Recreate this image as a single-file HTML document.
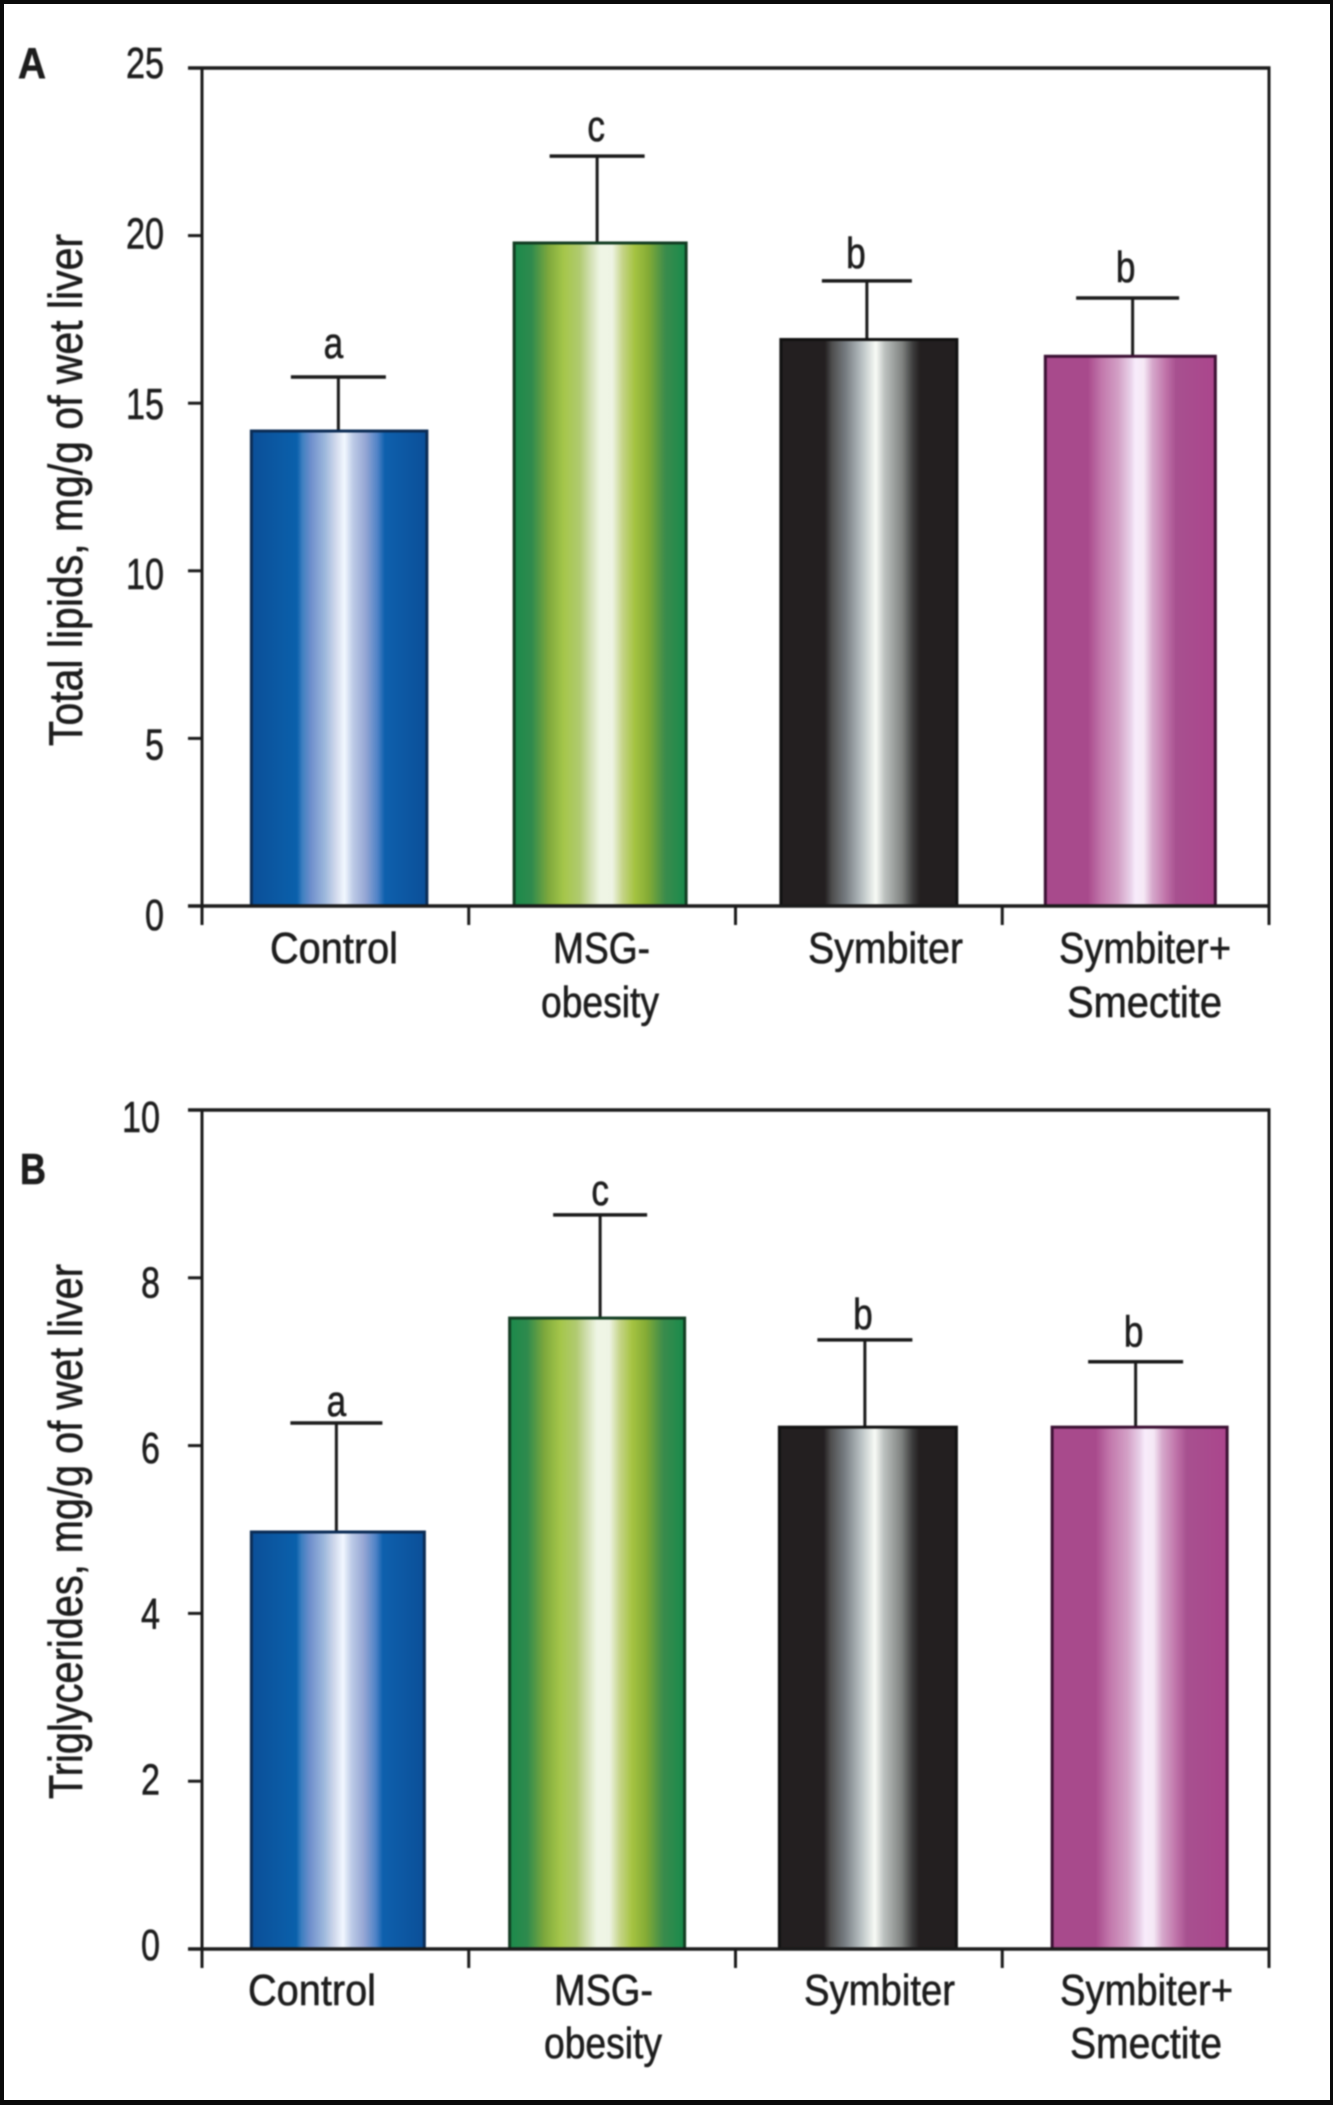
<!DOCTYPE html>
<html lang="en">
<head>
<meta charset="utf-8">
<title>Total lipids and triglycerides bar charts</title>
<style>
html,body{margin:0;padding:0;background:#fff;}
#page{position:relative;width:1333px;height:2105px;background:#fff;overflow:hidden;}
#frame{position:absolute;left:0;top:0;width:1333px;height:2105px;box-sizing:border-box;border-style:solid;border-color:#0a0a0a;border-width:4px 3px 5px 4px;}
#chart{position:absolute;left:0;top:0;filter:blur(0.9px);}
text{font-family:"Liberation Sans",sans-serif;fill:#1d1d1d;stroke:#1d1d1d;stroke-width:0.6px;}
</style>
</head>
<body>
<div id="page">
<svg id="chart" width="1333" height="2105" viewBox="0 0 1333 2105" xmlns="http://www.w3.org/2000/svg">
<defs>
<linearGradient id="grad-blue" x1="0" x2="1" y1="0" y2="0">
<stop offset="0" stop-color="#0b4f98"/><stop offset=".26" stop-color="#0a60ab"/><stop offset=".29" stop-color="#3d7fc0"/><stop offset=".34" stop-color="#6f8fcc"/><stop offset=".42" stop-color="#9db8dc"/><stop offset=".48" stop-color="#d0d8ec"/><stop offset=".53" stop-color="#f2f8ff"/><stop offset=".58" stop-color="#bccae6"/><stop offset=".65" stop-color="#95a6d4"/><stop offset=".72" stop-color="#4e82c6"/><stop offset=".76" stop-color="#0e60ad"/><stop offset="1" stop-color="#0b4f98"/>
</linearGradient>
<linearGradient id="grad-green" x1="0" x2="1" y1="0" y2="0">
<stop offset="0" stop-color="#1b8a4b"/><stop offset=".1" stop-color="#2e8a4d"/><stop offset=".2" stop-color="#7ea83c"/><stop offset=".29" stop-color="#a5c64a"/><stop offset=".38" stop-color="#b0ca70"/><stop offset=".45" stop-color="#d5e2b8"/><stop offset=".5" stop-color="#eff5e5"/><stop offset=".57" stop-color="#eef4e4"/><stop offset=".63" stop-color="#c5d488"/><stop offset=".7" stop-color="#a5c341"/><stop offset=".78" stop-color="#84ab35"/><stop offset=".88" stop-color="#3a8b4c"/><stop offset="1" stop-color="#178a4b"/>
</linearGradient>
<linearGradient id="grad-black" x1="0" x2="1" y1="0" y2="0">
<stop offset="0" stop-color="#231f20"/><stop offset=".25" stop-color="#231f20"/><stop offset=".29" stop-color="#4d4d4d"/><stop offset=".37" stop-color="#777d82"/><stop offset=".46" stop-color="#b8c0c2"/><stop offset=".54" stop-color="#f8fbf6"/><stop offset=".59" stop-color="#bcc1bf"/><stop offset=".69" stop-color="#7f8280"/><stop offset=".75" stop-color="#3d3d3d"/><stop offset=".79" stop-color="#231f20"/><stop offset="1" stop-color="#231f20"/>
</linearGradient>
<linearGradient id="grad-magenta" x1="0" x2="1" y1="0" y2="0">
<stop offset="0" stop-color="#a84a8c"/><stop offset=".25" stop-color="#a84a8c"/><stop offset=".33" stop-color="#c277ab"/><stop offset=".43" stop-color="#d3a0c6"/><stop offset=".5" stop-color="#e8d0e8"/><stop offset=".53" stop-color="#f8ecfb"/><stop offset=".58" stop-color="#f5e8f5"/><stop offset=".63" stop-color="#d6a8cb"/><stop offset=".71" stop-color="#bf72a8"/><stop offset=".77" stop-color="#a7508f"/><stop offset="1" stop-color="#ab458c"/>
</linearGradient>
</defs>
<g id="panel-a"></g>
<g id="panel-b"></g>
</svg>
<div id="frame"></div>
</div>
<script>
// ---- chart data ----
var categories = ['Control', 'MSG-obesity', 'Symbiter', 'Symbiter+Smectite'];
var lipidValues = [14.17, 19.78, 16.9, 16.4];
var lipidErrors = [1.61, 2.59, 1.75, 1.74];
var lipidLetters = ['a', 'c', 'b', 'b'];
var lipidTicks = [0, 5, 10, 15, 20, 25];
var trigValues = [4.97, 7.52, 6.22, 6.22];
var trigErrors = [1.3, 1.23, 1.04, 0.78];
var trigLetters = ['a', 'c', 'b', 'b'];
var trigTicks = [0, 2, 4, 6, 8, 10];

// ---- layout (separate from the data) ----
var svgNS = 'http://www.w3.org/2000/svg';
var fills = ['url(#grad-blue)', 'url(#grad-green)', 'url(#grad-black)', 'url(#grad-magenta)'];
var strokes = ['#0b2c55', '#123d22', '#111', '#3b1033'];
var plotLeft = 202;
var plotRight = 1269;

var layoutA = {
  id: 'panel-a', yZero: 906, yTop: 68, yMax: 25,
  title: 'Total lipids, mg/g of wet liver', titleStart: 746, titleLength: 512,
  letter: 'A', letterX: 18, letterY: 78, letterW: 28,
  tickLabelRight: 164,
  tickLabelOffset: function (v) { return 24 - (v * 0.56); },
  barShift: [3.75, -2, 0, -5.3], barWidth: [175.5, 172, 176, 170],
  errShift: [3, -5, -2, -3], capWidth: [95, 95, 90, 103], capShift: [0, 0, 0, -5],
  letterShift: [-2, -6, -13, -10], letterGap: [19, 15, 13, 16],
  labelRows: [963, 1017],
  labelBoxes: [[[270, 128]], [[553, 97], [541, 118]], [[808, 155]], [[1059, 172], [1067, 155]]],
  labelLines: [['Control'], ['MSG-', 'obesity'], ['Symbiter'], ['Symbiter+', 'Smectite']]
};
var layoutB = {
  id: 'panel-b', yZero: 1949, yTop: 1110, yMax: 10,
  title: 'Triglycerides, mg/g of wet liver', titleStart: 1799, titleLength: 535,
  letter: 'B', letterX: 20, letterY: 1184, letterW: 26,
  tickLabelRight: 160,
  tickLabelOffset: function (v) { return 11 + v * 1.1; },
  barShift: [2.5, -5, -1, 4], barWidth: [173, 175, 177, 175],
  errShift: [1, -2, -4, 0], capWidth: [92, 94, 95, 95], capShift: [0, 0, 0, 0],
  letterShift: [1, -2, -6, -2], letterGap: [7, 10, 11, 15],
  labelRows: [2005, 2058],
  labelBoxes: [[[248, 128]], [[554, 99], [544, 118]], [[804, 151]], [[1060, 173], [1070, 152]]],
  labelLines: [['Control'], ['MSG-', 'obesity'], ['Symbiter'], ['Symbiter+', 'Smectite']]
};

function makeLine(parent, x1, y1, x2, y2, w, color) {
  var el = document.createElementNS(svgNS, 'line');
  el.setAttribute('x1', x1);
  el.setAttribute('y1', y1);
  el.setAttribute('x2', x2);
  el.setAttribute('y2', y2);
  el.setAttribute('stroke', color || '#1a1a1a');
  el.setAttribute('stroke-width', w);
  parent.appendChild(el);
  return el;
}

function makeText(parent, str, x, y, size, len, weight) {
  var el = document.createElementNS(svgNS, 'text');
  el.setAttribute('x', x);
  el.setAttribute('y', y);
  el.setAttribute('font-size', size);
  if (len) {
    el.setAttribute('textLength', len);
    el.setAttribute('lengthAdjust', 'spacingAndGlyphs');
  }
  if (weight) { el.setAttribute('font-weight', weight); }
  el.textContent = str;
  parent.appendChild(el);
  return el;
}

function drawPanel(cfg, values, errors, letters, ticks) {
  var g = document.getElementById(cfg.id);
  var yScale = function (v) { return cfg.yZero - v * (cfg.yZero - cfg.yTop) / cfg.yMax; };
  var bandWidth = (plotRight - plotLeft) / categories.length;
  var xCenter = function (i) { return plotLeft + bandWidth * (i + 0.5); };
  var el;

  // bars and error bars
  values.forEach(function (v, i) {
    var cx = xCenter(i) + cfg.barShift[i];
    var w = cfg.barWidth[i];
    var ex = xCenter(i) + cfg.errShift[i];
    var cc = ex + cfg.capShift[i];
    var top = yScale(v + errors[i]);

    el = makeLine(g, ex, yScale(v), ex, top, 3);
    
    
    el = makeLine(g, cc - cfg.capWidth[i] / 2, top, cc + cfg.capWidth[i] / 2, top, 3.5);
    
    

    el = document.createElementNS(svgNS, 'rect');
    el.setAttribute('x', cx - w / 2);
    el.setAttribute('y', yScale(v));
    el.setAttribute('width', w);
    el.setAttribute('height', cfg.yZero - yScale(v));
    el.setAttribute('fill', fills[i]);
    el.setAttribute('stroke', strokes[i]);
    el.setAttribute('stroke-width', 3);
    
    
    g.appendChild(el);

    el = makeText(g, letters[i], xCenter(i) + cfg.letterShift[i], top - cfg.letterGap[i], 44, 0);
    el.setAttribute('text-anchor', 'middle');
    el.setAttribute('transform', 'translate(' + (xCenter(i) + cfg.letterShift[i]) * 0.2 + ' 0) scale(0.8 1)');
    
    
  });

  // axes frame
  el = makeLine(g, plotLeft - 14, cfg.yTop, plotRight + 1.5, cfg.yTop, 3.5);
  
  
  el = makeLine(g, plotLeft, cfg.yTop, plotLeft, cfg.yZero, 3);
  
  
  el = makeLine(g, plotRight, cfg.yTop, plotRight, cfg.yZero, 3);
  
  
  el = makeLine(g, plotLeft - 14, cfg.yZero, plotRight + 1.5, cfg.yZero, 3.5);
  
  

  // y ticks + labels
  ticks.forEach(function (t) {
    if (t !== 0 && t !== cfg.yMax) {
      el = makeLine(g, plotLeft - 14, yScale(t), plotLeft, yScale(t), 3);
      
      
    }
    var s = String(t);
    var w = s.length * 19;
    el = makeText(g, s, cfg.tickLabelRight - w, yScale(t) + cfg.tickLabelOffset(t), 44, w);
    
    
  });

  // x ticks
  for (var k = 0; k <= categories.length; k++) {
    var tx = plotLeft + bandWidth * k;
    el = makeLine(g, tx, cfg.yZero, tx, cfg.yZero + 19, 3);
    
    
  }

  // x labels
  cfg.labelLines.forEach(function (lines, i) {
    lines.forEach(function (line, r) {
      var box = cfg.labelBoxes[i][r];
      el = makeText(g, line, box[0], cfg.labelRows[r], 44, box[1]);
      
      
    });
  });

  // y title
  el = makeText(g, cfg.title, 0, 0, 47, cfg.titleLength);
  el.setAttribute('transform', 'translate(82 ' + cfg.titleStart + ') rotate(-90)');
  
  

  // panel letter
  el = makeText(g, cfg.letter, cfg.letterX, cfg.letterY, 44, cfg.letterW, 'bold');
  
  
}

drawPanel(layoutA, lipidValues, lipidErrors, lipidLetters, lipidTicks);
drawPanel(layoutB, trigValues, trigErrors, trigLetters, trigTicks);
</script>
</body>
</html>
